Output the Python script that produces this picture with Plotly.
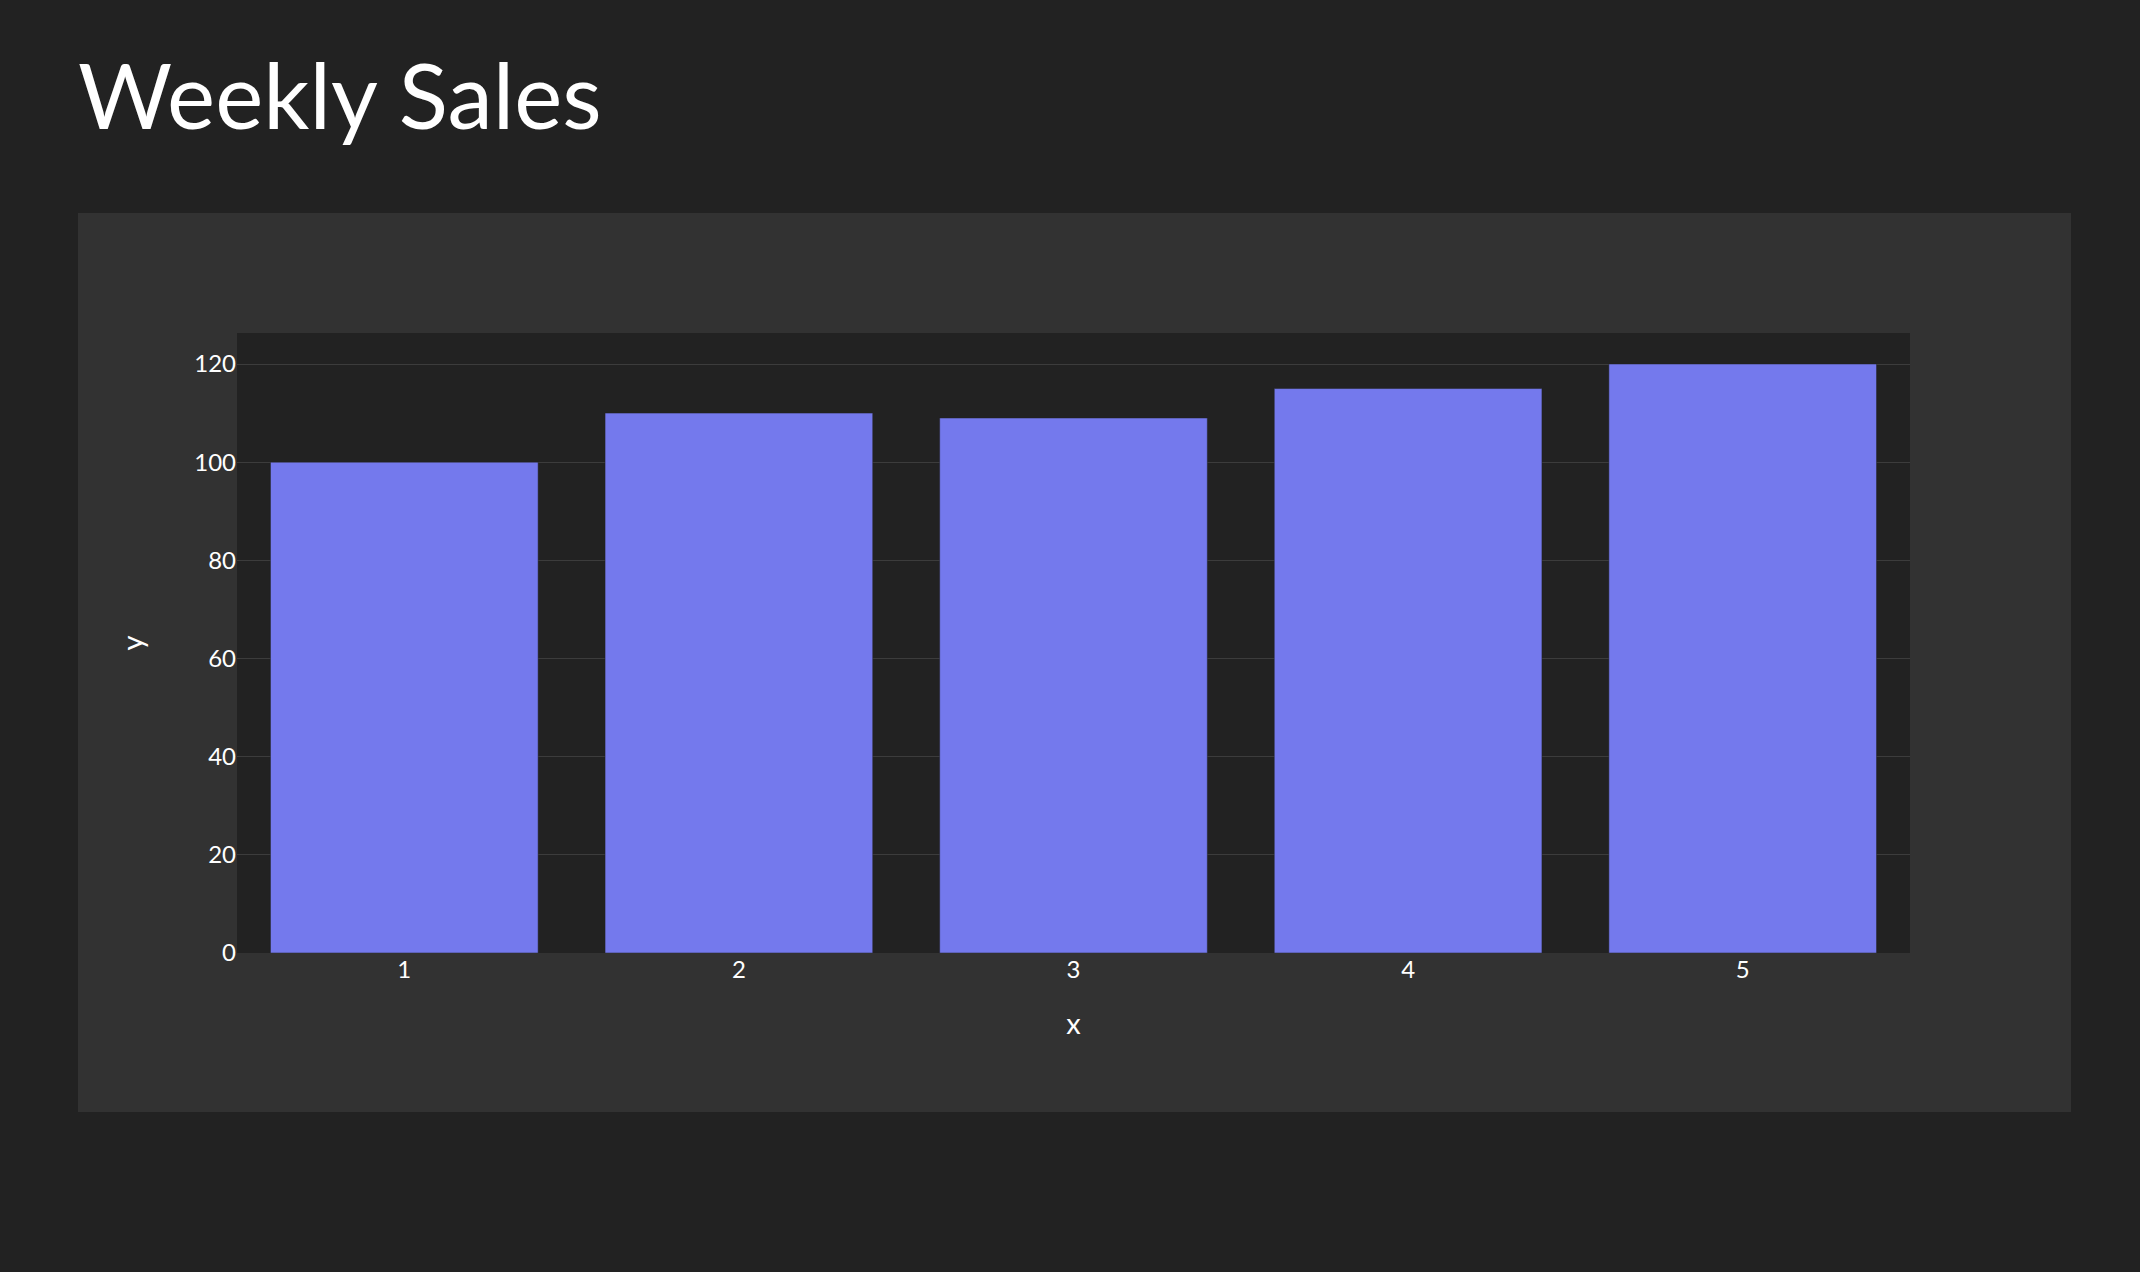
import plotly.graph_objects as go

# Weekly sales, one bar per week
weeks = [1, 2, 3, 4, 5]
sales = [100, 110, 109, 115, 120]
y_ticks = [0, 20, 40, 60, 80, 100, 120]

W, H = 2140, 1272
# plot area and outer panel in page pixels
plot_l, plot_r, plot_t, plot_b = 237, 1910, 333, 953
box_l, box_r, box_t, box_b = 78, 2071, 213, 1112

pw = plot_r - plot_l
ph = plot_b - plot_t


def px_x(v):
    return (v - plot_l) / pw


def px_y(v):
    return (plot_b - v) / ph


fig = go.Figure()
fig.add_trace(go.Bar(
    x=weeks, y=sales,
    marker=dict(color="#7479ed", line=dict(color="#222222", width=0.5)),
))

fig.update_layout(
    width=W, height=H,
    margin=dict(l=plot_l, r=W - plot_r, t=plot_t, b=H - plot_b, pad=0),
    paper_bgcolor="#222222",
    plot_bgcolor="#222222",
    font=dict(family="Lato", size=24, color="#ffffff"),
    title=dict(text="Weekly Sales", x=78 / W, xref="container", xanchor="left",
               y=1 - 97 / H, yref="container", yanchor="middle",
               font=dict(family="Lato", size=91, color="#ffffff")),
    showlegend=False,
    bargap=0.2,
    shapes=[
        dict(type="rect", xref="paper", yref="paper",
             x0=px_x(box_l), x1=px_x(box_r), y0=px_y(box_b), y1=px_y(box_t),
             fillcolor="#323232", line=dict(width=0), layer="below"),
        dict(type="rect", xref="x domain", yref="y domain",
             x0=0, x1=1, y0=0, y1=1,
             fillcolor="#222222", line=dict(width=0), layer="below"),
    ],
)
fig.update_xaxes(title=dict(text="x", standoff=31), tickmode="array", tickvals=weeks,
                 showgrid=False, zeroline=False, showline=False, ticks="")
fig.update_yaxes(title=dict(text="y", standoff=42), tickmode="array", tickvals=y_ticks,
                 gridcolor="#3c3c3c", gridwidth=1, zeroline=False,
                 showline=False, ticks="")

# page has no body margin, same dark background as the figure
fig.write_html("out.html", config={"displayModeBar": False},
               post_script="document.body.style.margin='0';"
                           "document.body.style.background='#222222';")
